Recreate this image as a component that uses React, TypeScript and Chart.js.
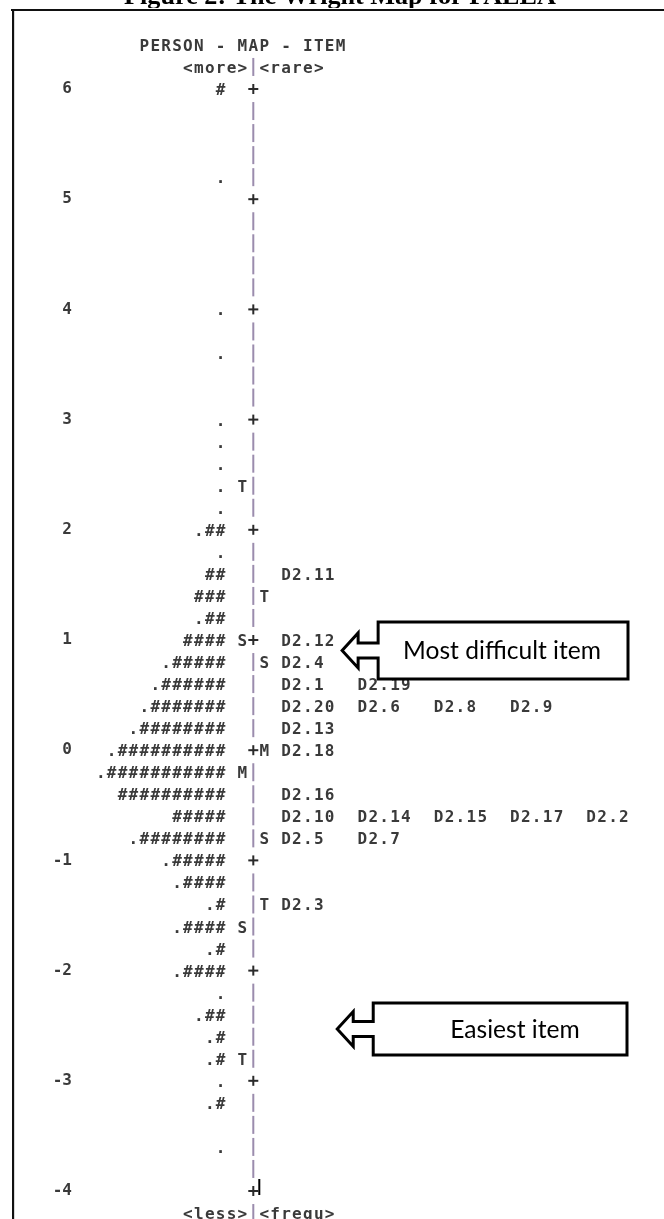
import { useEffect, useRef } from 'react';
import { Chart, registerables } from 'chart.js';

Chart.register(...registerables);

// ---------- data ----------
const titleText = 'Figure 2: The Wright Map for PAEEA';
const headerTitle = 'PERSON - MAP - ITEM';
const headerTop = '<more>|<rare>';
const headerBottom = '<less>|<frequ>';

const yTickValues = [6, 5, 4, 3, 2, 1, 0, -1, -2, -3, -4];

const personMeasures = [
  6.0, 5.2, 4.0, 3.6, 3.0, 2.8, 2.6, 2.4, 2.2, 2.0, 1.8, 1.6, 1.4, 1.2, 1.0, 0.8, 0.6, 0.4, 0.2, 0.0,
  -0.2, -0.4, -0.6, -0.8, -1.0, -1.2, -1.4, -1.6, -1.8, -2.0, -2.2, -2.4, -2.6, -2.8, -3.0, -3.2, -3.6,
];
const personBars = [
  '#', '.', '.', '.', '.', '.', '.', '.', '.', '.##', '.', '##', '###', '.##', '####', '.#####', '.######',
  '.#######', '.########', '.##########', '.###########', '##########', '#####', '.########', '.#####',
  '.####', '.#', '.####', '.#', '.####', '.', '.##', '.#', '.#', '.', '.#', '.',
];

const personMarkerMeasures = [2.4, 1.0, -0.2, -1.6, -2.8];
const personMarkerLabels = ['T', 'S', 'M', 'S', 'T'];
const itemMarkerMeasures = [1.4, 0.8, 0.0, -0.8, -1.4];
const itemMarkerLabels = ['T', 'S', 'M', 'S', 'T'];

const itemNames = [
  'D2.11', 'D2.12', 'D2.4', 'D2.1', 'D2.19', 'D2.20', 'D2.6', 'D2.8', 'D2.9', 'D2.13', 'D2.18', 'D2.16',
  'D2.10', 'D2.14', 'D2.15', 'D2.17', 'D2.2', 'D2.5', 'D2.7', 'D2.3',
];
const itemMeasures = [
  1.6, 1.0, 0.8, 0.6, 0.6, 0.4, 0.4, 0.4, 0.4, 0.2, 0.0, -0.4, -0.6, -0.6, -0.6, -0.6, -0.6, -0.8, -0.8, -1.4,
];

const calloutLabels = ['Most difficult item', 'Easiest item'];
const calloutMeasures = [0.905, -2.53];

// ---------- layout (character columns) ----------
const ROW_STEP = 0.2;
const AXIS_COL = 0;
const PERSON_COL = -3;
const PMARK_COL = -1;
const IMARK_COL = 1;
const ITEM_COL = 3;
const ITEM_STEP = 7;

const MONO = '"DejaVu Sans Mono", monospace';
const TEXT = '#3a3a3a';
const RULE = '#9b8cad';

const itemCols: number[] = [];
{
  const seen: Record<string, number> = {};
  itemMeasures.forEach((m) => {
    const key = m.toFixed(1);
    const k = seen[key] ?? 0;
    seen[key] = k + 1;
    itemCols.push(ITEM_COL + ITEM_STEP * k);
  });
}

function rulerRows(max: number, min: number) {
  const rows: number[] = [];
  const n = Math.round((max - min) / ROW_STEP);
  for (let i = 0; i <= n; i++) rows.push(+(max - i * ROW_STEP).toFixed(1));
  return rows;
}

function drawBar(ctx: CanvasRenderingContext2D, x: number, y: number) {
  ctx.save();
  ctx.fillStyle = RULE;
  ctx.fillRect(x - 1, y - 9, 2, 18);
  ctx.restore();
}

function drawPlus(ctx: CanvasRenderingContext2D, x: number, y: number) {
  ctx.save();
  ctx.fillStyle = '#2a2a2a';
  ctx.fillRect(x - 5, y - 1, 10, 2);
  ctx.fillRect(x - 1, y - 5, 2, 10);
  ctx.restore();
}

function drawChars(ctx: CanvasRenderingContext2D, xs: any, str: string, startCol: number, y: number) {
  for (let j = 0; j < str.length; j++) {
    const ch = str[j];
    if (ch === ' ') continue;
    const x = xs.getPixelForValue(startCol + j);
    if (ch === '|') {
      drawBar(ctx, x, y);
      continue;
    }
    ctx.fillText(ch, x, y + 6);
  }
}

function drawCallout(
  ctx: CanvasRenderingContext2D,
  tipX: number,
  cy: number,
  boxL: number,
  boxR: number,
  boxT: number,
  boxB: number,
  label: string,
  textX: number,
  fontPx: number,
) {
  const headBack = tipX + 16;
  const hh = 17.5;
  const sh = 7.5;
  ctx.save();
  ctx.beginPath();
  ctx.moveTo(boxL, boxT);
  ctx.lineTo(boxR, boxT);
  ctx.lineTo(boxR, boxB);
  ctx.lineTo(boxL, boxB);
  ctx.lineTo(boxL, cy + sh);
  ctx.lineTo(headBack, cy + sh);
  ctx.lineTo(headBack, cy + hh);
  ctx.lineTo(tipX, cy);
  ctx.lineTo(headBack, cy - hh);
  ctx.lineTo(headBack, cy - sh);
  ctx.lineTo(boxL, cy - sh);
  ctx.closePath();
  ctx.fillStyle = '#ffffff';
  ctx.fill();
  ctx.lineWidth = 3;
  ctx.lineJoin = 'miter';
  ctx.strokeStyle = '#000000';
  ctx.stroke();
  ctx.fillStyle = '#000000';
  ctx.font = `${fontPx}px Lato, "Open Sans", sans-serif`;
  ctx.textAlign = 'center';
  ctx.textBaseline = 'middle';
  ctx.fillText(label, textX, (boxT + boxB) / 2 + 1);
  ctx.restore();
}

const wrightPlugin = {
  id: 'wright',
  afterDatasetsDraw(chart: any) {
    const ctx: CanvasRenderingContext2D = chart.ctx;
    const xs = chart.scales.x;
    const ys = chart.scales.y;
    const W = chart.width;
    const H = chart.height;
    ctx.save();

    // title (cropped at the top of the picture)
    ctx.save();
    ctx.beginPath();
    ctx.rect(0, 0, W, 8);
    ctx.clip();
    ctx.font = 'bold 100px "Liberation Serif", serif';
    const w100 = ctx.measureText(titleText).width;
    ctx.font = `bold ${(100 * 432) / w100}px "Liberation Serif", serif`;
    ctx.fillStyle = '#000';
    ctx.textAlign = 'center';
    ctx.textBaseline = 'alphabetic';
    ctx.fillText(titleText, 340, 4);
    ctx.restore();

    // frame
    ctx.fillStyle = '#111';
    ctx.fillRect(11, 9, W - 11, 2);
    ctx.fillRect(12, 9, 2, H - 9);
    ctx.fillStyle = '#d8d8d8';
    ctx.fillRect(14, 11, 1, H - 11);

    ctx.font = `bold 16px ${MONO}`;
    ctx.textAlign = 'center';
    ctx.textBaseline = 'alphabetic';
    ctx.fillStyle = TEXT;

    // headers
    drawChars(ctx, xs, headerTitle, -10, ys.getPixelForValue(ys.max + 2 * ROW_STEP));
    drawChars(ctx, xs, headerTop, AXIS_COL - 6, ys.getPixelForValue(ys.max + ROW_STEP));
    drawChars(ctx, xs, headerBottom, AXIS_COL - 6, ys.getPixelForValue(ys.min - ROW_STEP));

    chart.data.datasets.forEach((ds: any, di: number) => {
      const meta = chart.getDatasetMeta(di);
      meta.data.forEach((el: any, i: number) => {
        const raw = ds.data[i];
        const txt: string = ds.texts[i];
        if (ds.label === 'ruler') {
          if (txt === '+') drawPlus(ctx, el.x, el.y);
          else drawBar(ctx, el.x, el.y);
        } else if (ds.label === 'persons') {
          drawChars(ctx, xs, txt, raw.x - (txt.length - 1), el.y);
        } else {
          drawChars(ctx, xs, txt, raw.x, el.y);
        }
      });
    });

    // text cursor next to the bottom "+"
    const x0 = xs.getPixelForValue(AXIS_COL);
    const yb = ys.getPixelForValue(ys.min);
    ctx.fillStyle = '#000';
    ctx.fillRect(x0 + 5, yb - 12, 2, 16);

    // callouts
    ctx.font = '100px Lato, "Open Sans", sans-serif';
    const fw = ctx.measureText(calloutLabels[0]).width;
    const fontPx = (100 * 198) / fw;
    {
      const cy = ys.getPixelForValue(calloutMeasures[0]);
      const tipX = xs.getPixelForValue(8.15);
      drawCallout(ctx, tipX, cy, tipX + 36, 628, cy - 28.5, cy + 28.5, calloutLabels[0], 502, fontPx);
    }
    {
      const cy = ys.getPixelForValue(calloutMeasures[1]);
      const tipX = xs.getPixelForValue(7.7);
      drawCallout(ctx, tipX, cy, tipX + 36, 627, cy - 26, cy + 26, calloutLabels[1], 515, fontPx);
    }
    ctx.restore();
  },
};

export default function App() {
  const ref = useRef<HTMLCanvasElement>(null);
  useEffect(() => {
    document.body.style.margin = '0';
    const canvas = ref.current!;
    const ruler = rulerRows(yTickValues[0], yTickValues[yTickValues.length - 1]);
    const chart = new Chart(canvas, {
      type: 'scatter',
      data: {
        datasets: [
          {
            label: 'ruler',
            data: ruler.map((v) => ({ x: AXIS_COL, y: v })),
            texts: ruler.map((v) => (Number.isInteger(v) ? '+' : '|')),
            pointRadius: 0,
          } as any,
          {
            label: 'persons',
            data: personMeasures.map((v) => ({ x: PERSON_COL, y: v })),
            texts: personBars,
            pointRadius: 0,
          } as any,
          {
            label: 'personMarkers',
            data: personMarkerMeasures.map((v) => ({ x: PMARK_COL, y: v })),
            texts: personMarkerLabels,
            pointRadius: 0,
          } as any,
          {
            label: 'itemMarkers',
            data: itemMarkerMeasures.map((v) => ({ x: IMARK_COL, y: v })),
            texts: itemMarkerLabels,
            pointRadius: 0,
          } as any,
          {
            label: 'items',
            data: itemMeasures.map((v, i) => ({ x: itemCols[i], y: v })),
            texts: itemNames,
            pointRadius: 0,
          } as any,
        ],
      },
      options: {
        animation: false,
        responsive: false,
        devicePixelRatio: 1,
        events: [],
        layout: { padding: { top: 89, bottom: 28, left: 0, right: 0 } },
        plugins: {
          legend: { display: false },
          tooltip: { enabled: false },
          title: { display: false },
        },
        scales: {
          x: {
            type: 'linear',
            display: false,
            min: -16.358,
            max: 37.68,
          },
          y: {
            type: 'linear',
            position: 'left',
            min: yTickValues[yTickValues.length - 1],
            max: yTickValues[0],
            afterFit: (s: any) => {
              s.width = 75;
            },
            afterBuildTicks: (s: any) => {
              s.ticks = yTickValues.map((v) => ({ value: v }));
            },
            grid: { display: false, drawTicks: false },
            border: { display: false },
            ticks: {
              color: TEXT,
              padding: 3,
              font: { family: MONO, size: 16, weight: 'bold' },
              callback: (v: any) => String(v),
            },
          },
        },
      } as any,
      plugins: [wrightPlugin],
    });
    return () => chart.destroy();
  }, []);
  return (
    <div style={{ width: 664, height: 1219, background: '#ffffff' }}>
      <canvas ref={ref} width={664} height={1219} style={{ display: 'block' }} />
    </div>
  );
}
